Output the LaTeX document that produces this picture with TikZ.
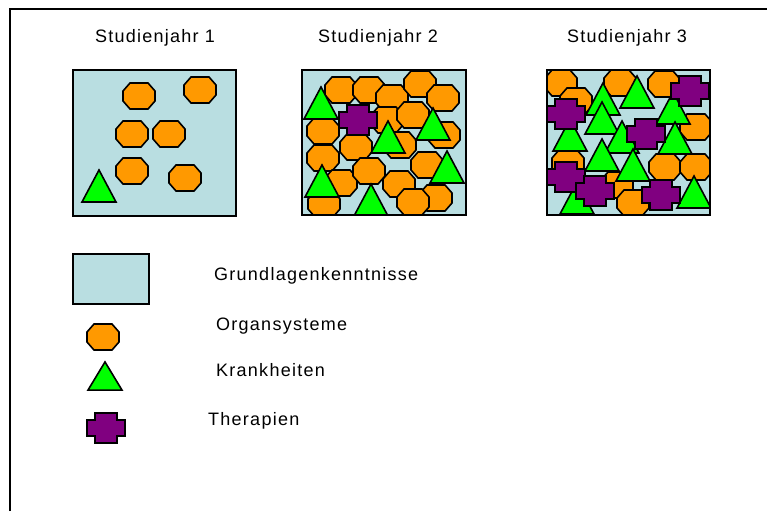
\documentclass[tikz,border=0pt]{standalone}
\usepackage{fontspec}
\setmainfont{Liberation Sans}[LetterSpace=7]
\definecolor{grundblau}{HTML}{B9DEE1}
\definecolor{organorange}{HTML}{FF9900}
\definecolor{krankgruen}{HTML}{00FF00}
\definecolor{therapielila}{HTML}{800080}
\tikzset{
  organ/.pic={\filldraw[fill=organorange,draw=black,line width=1.6]
    (-16,-5) -- (-9,-13) -- (9,-13) -- (16,-5) -- (16,5) -- (9,13) -- (-9,13) -- (-16,5) -- cycle;},
  krank/.pic={\filldraw[fill=krankgruen,draw=black,line width=1.6]
    (-17,16) -- (0,-16) -- (17,16) -- cycle;},
  therapie/.pic={\filldraw[fill=therapielila,draw=black,line width=1.6]
    (-11,-15) -- (11,-15) -- (11,-8) -- (19,-8) -- (19,8) -- (11,8) -- (11,15)
    -- (-11,15) -- (-11,8) -- (-19,8) -- (-19,-8) -- (-11,-8) -- cycle;},
  jahrbox/.style={fill=grundblau,draw=black,line width=2},
  legendtext/.style={font=\fontsize{18}{21}\selectfont,inner sep=0pt}
}
\begin{document}
\begin{tikzpicture}[x=1pt,y=-1pt]
  \useasboundingbox (0,0) rectangle (767,511);
  \draw[line width=2.5] (10,511) -- (10,9) -- (767,9);

  % Titel
  \node[legendtext] (jahr1) at (155,38) {Studienjahr 1};
  \node[legendtext] (jahr2) at (378,38) {Studienjahr 2};
  \node[legendtext] (jahr3) at (627,38) {Studienjahr 3};

  % Studienjahr 1
  \fill[grundblau] (73,70) rectangle (236,216);
  \foreach \x/\y in {139/96,200/90,132/134,169/134,132/171,185/178}
    \pic at (\x,\y) {organ};
  \pic at (99,186) {krank};
  \draw[line width=2] (73,70) rectangle (236,216);

  % Studienjahr 2
  \fill[grundblau] (302,70) rectangle (466,215);
  \begin{scope}
    \clip (302,70) rectangle (466,215);
    \foreach \x/\y in {341/90,369/90,392/98,420/84,443/98,323/131,387/120,413/115,
                       444/135,356/147,400/145,323/158,341/183,369/171,427/165,
                       399/184,436/198,413/202,324/204}
      \pic at (\x,\y) {organ};
    \pic at (358,120) {therapie};
    \foreach \x/\y in {321/103,388/137,433/124,447/167,322/181,371/200}
      \pic at (\x,\y) {krank};
  \end{scope}
  \draw[line width=2] (302,70) rectangle (466,215);

  % Studienjahr 3
  \fill[grundblau] (547,70) rectangle (710,215);
  \begin{scope}
    \clip (547,70) rectangle (710,215);
    \foreach \x/\y in {561/83,620/83,664/84,576/101,696/127,568/163,665/167,
                       696/167,617/185,633/203}
      \pic at (\x,\y) {organ};
    \foreach \x/\y in {603/99,637/92,673/108,602/118,570/135,622/137,675/138,
                       602/155,633/165,577/198,694/192}
      \pic at (\x,\y) {krank};
    \foreach \x/\y in {690/91,566/114,646/134,566/177,595/191,661/195}
      \pic at (\x,\y) {therapie};
  \end{scope}
  \draw[line width=2] (547,70) rectangle (710,215);

  % Legende
  \filldraw[jahrbox] (73,254) rectangle (149,304);
  \pic at (103,337) {organ};
  \pic[yscale=0.88] at (105,376) {krank};
  \pic at (106,428) {therapie};
  \node[legendtext,anchor=west] (grund) at (214,276) {Grundlagenkenntnisse};
  \node[legendtext,anchor=west] (organ) at (216,326) {Organsysteme};
  \node[legendtext,anchor=west] (krank) at (216,370) {Krankheiten};
  \node[legendtext,anchor=west] (therapie) at (208,421) {Therapien};
\end{tikzpicture}
\end{document}
